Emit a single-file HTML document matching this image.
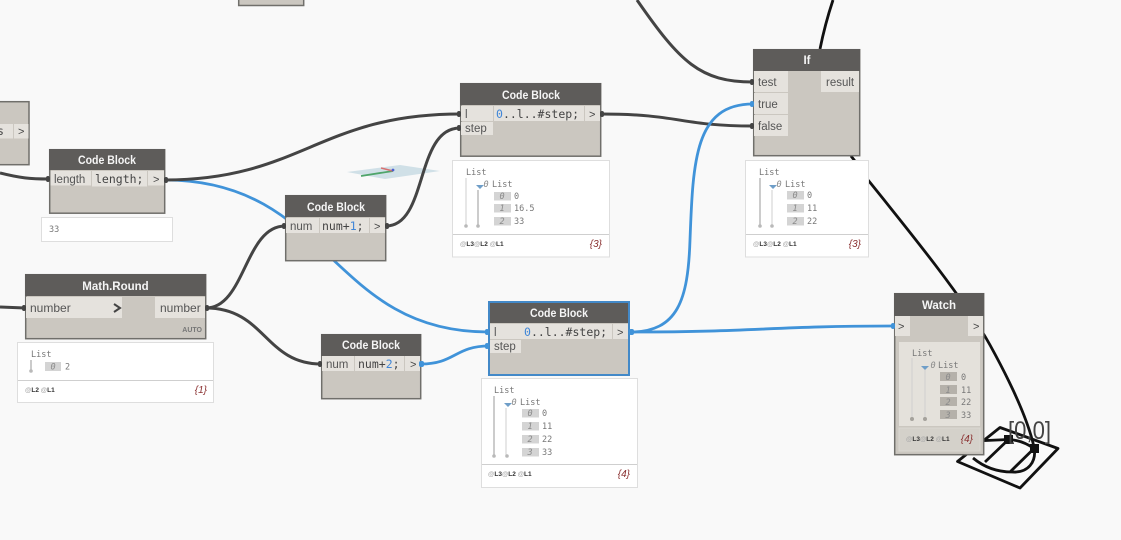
<!DOCTYPE html>
<html><head><meta charset="utf-8"><style>
html,body{margin:0;padding:0;background:#f9f9f9}
svg{display:block}
text{font-family:"Liberation Sans",sans-serif}
.h{font-size:11.5px;font-weight:bold;fill:#f5f5f5;text-anchor:middle}
.p{font-size:11.5px;fill:#555}
.c{font-family:"DejaVu Sans Mono","Liberation Mono",monospace;font-size:11.5px;fill:#444}
.m{font-family:"DejaVu Sans Mono","Liberation Mono",monospace;font-size:8.5px;fill:#777}
.i{font-family:"DejaVu Sans Mono","Liberation Mono",monospace;font-size:8.5px;fill:#8a8a8a;font-style:italic;text-anchor:middle}
.f{font-size:6.5px;font-weight:bold;fill:#333}
.f tspan{fill:#aaa}
.n{font-size:10px;font-style:italic;fill:#8a3030;text-anchor:end}
.bd{fill:#cbc7c0;stroke:#706f6b;stroke-width:1.5}
.hd{fill:#5e5c5a}
.ce{fill:#e5e2dd}
.w{fill:none;stroke:#444;stroke-width:3}
.b{fill:none;stroke:#4093d9;stroke-width:2.8}
.k{fill:none;stroke:#111;stroke-width:2.8}
.pv{fill:#fff;stroke:#dedede;stroke-width:1}
.l{stroke:#cfcfcf;stroke-width:1}
.l2{stroke:#b5b5b5;stroke-width:1.4}
.ib{fill:#d4d4d4}
.d{fill:#b9b9b9}
.gt{font-size:11px;fill:#444;font-family:"Liberation Sans",sans-serif}
</style></head><body>
<svg width="1121" height="540" viewBox="0 0 1121 540" xmlns="http://www.w3.org/2000/svg">
<rect width="1121" height="540" fill="#f9f9f9"/>

<!-- background 3D geometry -->
<polygon points="347,172 400,165 440,171 385,179" fill="#c6d9e2" opacity=".8"/>
<line x1="361" y1="176" x2="393" y2="171" stroke="#4fa56a" stroke-width="1.8"/>
<line x1="381" y1="168" x2="393" y2="171" stroke="#d87070" stroke-width="1.5"/>
<circle cx="393" cy="170" r="1.4" fill="#4a60d0"/>

<g class="k" stroke-linejoin="round">
<polygon points="957.500,461.500 1000,427.500 1058,448.500 1020,488"/>
<line x1="985" y1="462" x2="1008.500" y2="439.500"/>
<line x1="1010" y1="472" x2="1034" y2="448.500"/>
<path d="M975,441 L1008.500,439.500 Q1022,440 1034,448.500"/>
<path d="M973,458 C985,468 998,472 1012,472 C1028,473 1037,462 1034,447"/>
<path d="M833,0 C827,18 823,34 820,49"/>
<path d="M851,156 L858,165 M868,180 C910,232 965,300 990,345 C1012,385 1028,420 1034,447"/>
</g>
<rect x="1004" y="435" width="9" height="9" fill="#111"/>
<rect x="1030" y="444" width="9" height="9" fill="#111"/>
<text x="1008" y="439" font-size="25" fill="#444" textLength="43" lengthAdjust="spacingAndGlyphs">[0,0]</text>

<!-- wires -->
<path class="w" d="M0,173 C20,178 30,179 49,179"/>
<path class="b" d="M165,180 C330,180 330,332 488,332"/>
<path class="w" d="M165,180 C300,180 320,114 460,114"/>
<path class="w" d="M386,226 C428,226 415,128 460,128"/>
<path class="w" d="M206,308 C245,308 245,226 285,226"/>
<path class="w" d="M206,308 C265,308 265,364 321,364"/>
<path class="w" d="M0,307 L25,308"/>
<path class="b" d="M421,364 C455,364 455,346 489,346"/>
<path class="w" d="M601,114 C680,114 680,126 753,126"/>
<path class="w" d="M637,0 C680,62 700,82 753,82"/>
<path class="b" d="M630,332 C678,332 688,300 690,240 C693,160 695,104 753,104"/>
<path class="b" d="M630,332 C760,332 770,326 894,326"/>

<!-- top partial node -->
<rect class="bd" x="238.700" y="-5" width="65" height="10.500"/>

<!-- left partial node -->
<rect class="bd" x="-5" y="101.700" width="34" height="63"/>
<rect class="ce" x="0" y="124" width="13" height="14.500"/><rect class="ce" x="14" y="124" width="14.500" height="14.500"/>
<text class="c" x="-3" y="135">s</text><text class="gt" x="18" y="135">&gt;</text>

<!-- Code Block length -->
<rect class="bd" x="49.700" y="149.700" width="115" height="63.500"/>
<rect class="hd" x="49" y="149" width="116" height="21"/>
<text class="h" x="107" y="164" textLength="58" lengthAdjust="spacingAndGlyphs">Code Block</text>
<rect class="ce" x="50.500" y="171" width="40.500" height="14.500"/><rect class="ce" x="92" y="171" width="55" height="15.500"/><rect class="ce" x="148" y="171" width="16" height="14.500"/>
<text class="p" x="54" y="183">length</text><text class="c" x="95" y="183">length;</text><text class="gt" x="153" y="183">&gt;</text>
<rect class="pv" x="41.500" y="217.500" width="131" height="24"/>
<text class="m" x="49" y="232" fill="#999">33</text>

<!-- Code Block top -->
<rect class="bd" x="460.700" y="83.700" width="140" height="72.500"/>
<rect class="hd" x="460" y="83" width="141" height="22"/>
<text class="h" x="531" y="99" textLength="58" lengthAdjust="spacingAndGlyphs">Code Block</text>
<rect class="ce" x="461" y="106" width="32" height="15"/><rect class="ce" x="494" y="106" width="90" height="15"/><rect class="ce" x="585" y="106" width="15" height="15"/>
<rect class="ce" x="461" y="122" width="32" height="13"/>
<text class="p" x="465" y="118">l</text><text class="c" x="496" y="118"><tspan fill="#3f86d8">0</tspan>..l..#step;</text><text class="gt" x="589" y="118">&gt;</text>
<text class="p" x="465" y="132">step</text>

<!-- num+1 -->
<rect class="bd" x="285.700" y="195.700" width="100" height="65"/>
<rect class="hd" x="285" y="195" width="101" height="22"/>
<text class="h" x="336" y="211" textLength="58" lengthAdjust="spacingAndGlyphs">Code Block</text>
<rect class="ce" x="286" y="218" width="33" height="15"/><rect class="ce" x="320" y="218" width="49" height="15"/><rect class="ce" x="370" y="218" width="15" height="15"/>
<text class="p" x="290" y="230">num</text><text class="c" x="322" y="230">num+<tspan fill="#3f86d8">1</tspan>;</text><text class="gt" x="374" y="230">&gt;</text>

<!-- Math.Round -->
<rect class="bd" x="25.700" y="274.700" width="180" height="64"/>
<rect class="hd" x="25" y="274" width="181" height="22"/>
<text class="h" x="115.500" y="290">Math.Round</text>
<rect class="ce" x="26" y="297" width="96" height="21"/><rect class="ce" x="155" y="297" width="50" height="21"/>
<text class="p" x="30" y="312" style="font-size:12px">number</text><text class="p" x="160" y="312" style="font-size:12px">number</text>
<path d="M114,304 L120,308 L114,312" fill="none" stroke="#444" stroke-width="2"/>
<text x="202" y="332" font-size="7" font-weight="bold" fill="#777" text-anchor="end">AUTO</text>
<rect class="pv" x="17.500" y="342.500" width="196" height="60"/>
<line class="l" x1="18" y1="380.500" x2="213" y2="380.500"/>
<text class="m" x="31" y="357">List</text>
<line class="l2" x1="31" y1="360" x2="31" y2="370"/><circle class="d" cx="31" cy="371" r="1.8"/>
<rect class="ib" x="45" y="362" width="16" height="9"/><text class="i" x="53" y="369.500">0</text><text class="m" x="65" y="369.500">2</text>
<text class="f" x="25" y="392"><tspan>@</tspan>L2 <tspan>@</tspan>L1</text>
<text class="n" x="207" y="393">{1}</text>

<!-- num+2 -->
<rect class="bd" x="321.700" y="334.700" width="99" height="64"/>
<rect class="hd" x="321" y="334" width="100" height="22"/>
<text class="h" x="371" y="349" textLength="58" lengthAdjust="spacingAndGlyphs">Code Block</text>
<rect class="ce" x="322" y="356" width="32" height="15"/><rect class="ce" x="355" y="356" width="49" height="15"/><rect class="ce" x="405" y="356" width="15" height="15"/>
<text class="p" x="326" y="368">num</text><text class="c" x="358" y="368">num+<tspan fill="#3f86d8">2</tspan>;</text><text class="gt" x="410" y="368">&gt;</text>

<!-- selected Code Block -->
<rect fill="#cbc7c0" stroke="#4389c8" stroke-width="2" x="489" y="302" width="140" height="73"/>
<rect class="hd" x="490" y="303" width="138" height="20"/>
<text class="h" x="559" y="317" textLength="58" lengthAdjust="spacingAndGlyphs">Code Block</text>
<rect class="ce" x="490" y="324" width="33" height="15"/><rect class="ce" x="522" y="324" width="90" height="15"/><rect class="ce" x="613" y="324" width="15" height="15"/>
<rect class="ce" x="490" y="340" width="31" height="13"/>
<text class="p" x="494" y="336">l</text><text class="c" x="524" y="336"><tspan fill="#3f86d8">0</tspan>..l..#step;</text><text class="gt" x="617" y="336">&gt;</text>
<text class="p" x="494" y="350">step</text>

<!-- If -->
<rect class="bd" x="753.700" y="49.700" width="106" height="106"/>
<rect class="hd" x="753" y="49" width="107" height="22"/>
<text class="h" x="807" y="64">If</text>
<rect class="ce" x="754" y="71" width="34" height="21"/><rect class="ce" x="754" y="93" width="34" height="21"/><rect class="ce" x="754" y="115" width="34" height="21"/><rect class="ce" x="821" y="71" width="38" height="21"/>
<text class="p" x="758" y="86">test</text><text class="p" x="758" y="108">true</text><text class="p" x="758" y="130">false</text><text class="p" x="826" y="86">result</text>

<!-- Watch -->
<rect class="bd" x="894.700" y="293.700" width="89" height="161"/>
<rect class="hd" x="894" y="293" width="90" height="23"/>
<text class="h" x="939" y="309">Watch</text>
<rect class="ce" x="895" y="316" width="15" height="20"/><rect class="ce" x="968" y="316" width="15" height="20"/>
<text class="gt" x="898" y="330">&gt;</text><text class="gt" x="973" y="330">&gt;</text>
<rect x="899" y="342" width="81" height="84" fill="#e4e1db"/>
<rect x="899" y="428" width="81" height="23" fill="#d4d1ca" stroke="#dad7d1"/>
<text class="m" x="912" y="356">List</text>
<line class="l" x1="912" y1="358" x2="912" y2="418"/><line class="l" x1="925" y1="370" x2="925" y2="418"/>
<circle cx="912" cy="419" r="2" fill="#a5a29c"/><circle cx="925" cy="419" r="2" fill="#a5a29c"/>
<polygon points="921,366 929,366 925,370" fill="#6f9ec8"/>
<text class="i" x="933" y="368">0</text><text class="m" x="938" y="368">List</text>
<g fill="#b5b1aa"><rect x="940" y="372" width="17" height="9"/><rect x="940" y="385" width="17" height="9"/><rect x="940" y="397" width="17" height="9"/><rect x="940" y="410" width="17" height="9"/></g>
<text class="i" x="948" y="380">0</text><text class="i" x="948" y="393">1</text><text class="i" x="948" y="405">2</text><text class="i" x="948" y="418">3</text>
<text class="m" x="961" y="380">0</text><text class="m" x="961" y="393">11</text><text class="m" x="961" y="405">22</text><text class="m" x="961" y="418">33</text>
<text class="f" x="906" y="441"><tspan>@</tspan>L3<tspan>@</tspan>L2 <tspan>@</tspan>L1</text>
<text class="n" x="973" y="442">{4}</text>

<!-- previews -->
<g transform="translate(452,160)">
<rect class="pv" x=".5" y=".5" width="157" height="96.500"/><line class="l" x1="1" y1="74.500" x2="157" y2="74.500"/>
<text class="m" x="14" y="15">List</text><line class="l" x1="14" y1="18" x2="14" y2="65"/><line class="l2" x1="26" y1="30" x2="26" y2="65"/>
<circle class="d" cx="14" cy="66" r="1.8"/><circle class="d" cx="26" cy="66" r="1.8"/>
<polygon points="24,25 32,25 28,29" fill="#6f9ec8"/><text class="i" x="34" y="27">0</text><text class="m" x="40" y="27">List</text>
<rect class="ib" x="42" y="32" width="17" height="8.500"/><rect class="ib" x="42" y="44" width="17" height="8.500"/><rect class="ib" x="42" y="57" width="17" height="8.500"/>
<text class="i" x="50" y="39">0</text><text class="i" x="50" y="51">1</text><text class="i" x="50" y="64">2</text>
<text class="m" x="62" y="39">0</text><text class="m" x="62" y="51">16.5</text><text class="m" x="62" y="64">33</text>
<text class="f" x="8" y="86"><tspan>@</tspan>L3<tspan>@</tspan>L2 <tspan>@</tspan>L1</text><text class="n" x="150" y="87">{3}</text>
</g>
<g transform="translate(481,378)">
<rect class="pv" x=".5" y=".5" width="156" height="109"/><line class="l" x1="1" y1="86.500" x2="156" y2="86.500"/>
<text class="m" x="13" y="15">List</text><line class="l2" x1="13" y1="18" x2="13" y2="77"/><line class="l" x1="25" y1="30" x2="25" y2="77"/>
<circle class="d" cx="13" cy="78" r="1.8"/><circle class="d" cx="26" cy="78" r="1.8"/>
<polygon points="23,25 31,25 27,29" fill="#6f9ec8"/><text class="i" x="33" y="27">0</text><text class="m" x="39" y="27">List</text>
<rect class="ib" x="41" y="31" width="17" height="8.500"/><rect class="ib" x="41" y="44" width="17" height="8.500"/><rect class="ib" x="41" y="57" width="17" height="8.500"/><rect class="ib" x="41" y="70" width="17" height="8.500"/>
<text class="i" x="49" y="38">0</text><text class="i" x="49" y="51">1</text><text class="i" x="49" y="64">2</text><text class="i" x="49" y="77">3</text>
<text class="m" x="61" y="38">0</text><text class="m" x="61" y="51">11</text><text class="m" x="61" y="64">22</text><text class="m" x="61" y="77">33</text>
<text class="f" x="7" y="98"><tspan>@</tspan>L3<tspan>@</tspan>L2 <tspan>@</tspan>L1</text><text class="n" x="149" y="99">{4}</text>
</g>
<g transform="translate(745,160)">
<rect class="pv" x=".5" y=".5" width="123" height="96.500"/><line class="l" x1="1" y1="74.500" x2="123" y2="74.500"/>
<text class="m" x="14" y="15">List</text><line class="l2" x1="15" y1="18" x2="15" y2="65"/><line class="l" x1="27" y1="30" x2="27" y2="65"/>
<circle class="d" cx="15" cy="66" r="1.8"/><circle class="d" cx="27" cy="66" r="1.8"/>
<polygon points="24,25 32,25 28,29" fill="#6f9ec8"/><text class="i" x="34" y="27">0</text><text class="m" x="40" y="27">List</text>
<rect class="ib" x="42" y="31" width="17" height="8.500"/><rect class="ib" x="42" y="44" width="17" height="8.500"/><rect class="ib" x="42" y="57" width="17" height="8.500"/>
<text class="i" x="50" y="38">0</text><text class="i" x="50" y="51">1</text><text class="i" x="50" y="64">2</text>
<text class="m" x="62" y="38">0</text><text class="m" x="62" y="51">11</text><text class="m" x="62" y="64">22</text>
<text class="f" x="8" y="86"><tspan>@</tspan>L3<tspan>@</tspan>L2 <tspan>@</tspan>L1</text><text class="n" x="116" y="87">{3}</text>
</g>

<!-- port nubs -->
<g fill="#444">
<rect x="46" y="176" width="4" height="6" rx="2"/><rect x="164" y="177" width="4" height="6" rx="2"/>
<rect x="457" y="111" width="4" height="6" rx="2"/><rect x="457" y="125" width="4" height="6" rx="2"/><rect x="600" y="111" width="4" height="6" rx="2"/>
<rect x="282" y="223" width="4" height="6" rx="2"/><rect x="385" y="223" width="4" height="6" rx="2"/>
<rect x="22" y="305" width="4" height="6" rx="2"/><rect x="205" y="305" width="4" height="6" rx="2"/>
<rect x="318" y="361" width="4" height="6" rx="2"/>
<rect x="750" y="79" width="4" height="6" rx="2"/><rect x="750" y="123" width="4" height="6" rx="2"/>
</g>
<g fill="#4093d9">
<rect x="419" y="361" width="5" height="6" rx="2"/><rect x="485" y="329" width="4" height="6" rx="2"/><rect x="485" y="343" width="4" height="6" rx="2"/><rect x="629" y="329" width="5" height="6" rx="2"/>
<rect x="750" y="101" width="4" height="6" rx="2"/><rect x="891" y="323" width="4" height="6" rx="2"/>
</g>
</svg>
</body></html>
